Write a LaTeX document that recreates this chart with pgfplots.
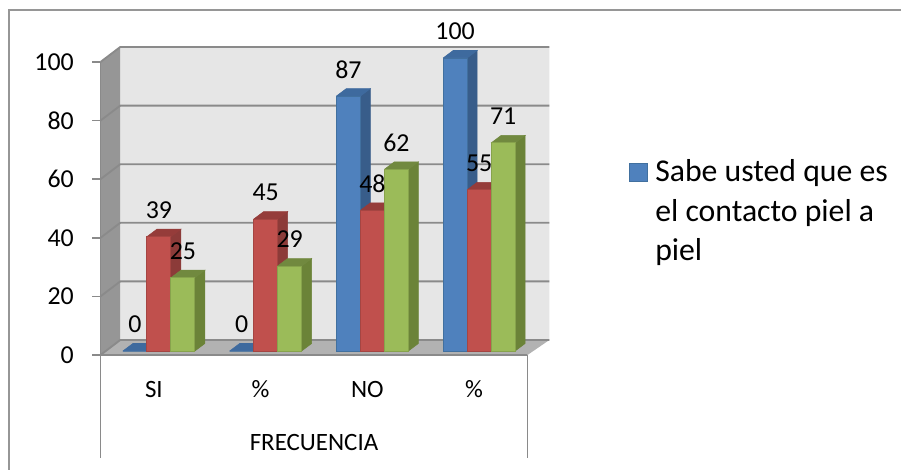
\documentclass[border=0pt]{standalone}
\usepackage{fontspec}
\setmainfont{Carlito}
\usepackage{pgfplots}
\usepackage{pgfplotstable}
\pgfplotsset{compat=1.18}
\pgfplotsset{/pgf/number format/assume math mode=true}

\definecolor{blueF}{HTML}{4F81BD}\definecolor{blueS}{HTML}{385D8A}\definecolor{blueT}{HTML}{3E6A9E}\definecolor{blueE}{HTML}{41709F}
\definecolor{redF}{HTML}{C0504D}\definecolor{redS}{HTML}{8C3B39}\definecolor{redT}{HTML}{953C3A}\definecolor{redE}{HTML}{A54542}
\definecolor{greenF}{HTML}{9BBB59}\definecolor{greenS}{HTML}{6B8338}\definecolor{greenT}{HTML}{71893F}\definecolor{greenE}{HTML}{87A34C}
\definecolor{wallback}{HTML}{E6E6E6}\definecolor{wallside}{HTML}{969696}\definecolor{floorc}{HTML}{B2B2B2}\definecolor{axisc}{HTML}{8A8A8A}

\pgfplotstableread{
x  blue red green
0  0    39  25
1  0    45  29
2  87   48  62
3  100  55  71
}\freq

% depth of one bar, in axis units
\def\dx{0.0937}\def\dy{2.56}
\def\hw{0.1124}

% side and top faces of a bar: #1 centre, #2 height, #3 side colour, #4 top colour
\newcommand{\barfaces}[4]{%
  \pgfmathsetmacro\xa{#1-\hw}\pgfmathsetmacro\xb{#1+\hw}%
  \pgfmathsetmacro\xc{\xb+\dx}\pgfmathsetmacro\xd{\xa+\dx}\pgfmathsetmacro\yt{#2+\dy}%
  \addplot[fill=#3,draw=#3,line width=0.4pt,forget plot] coordinates {(\xb,0) (\xc,\dy) (\xc,\yt) (\xb,#2) (\xb,0)};
  \addplot[fill=#4,draw=#4,line width=0.4pt,forget plot] coordinates {(\xa,#2) (\xb,#2) (\xc,\yt) (\xd,\yt) (\xa,#2)};
}
% faces of a whole series: #1 column, #2 offset of the bar from the category, #3 side, #4 top
\newcommand{\seriesfaces}[4]{%
  \foreach \r in {0,1,2,3}{%
    \pgfplotstablegetelem{\r}{#1}\of\freq
    \let\val\pgfplotsretval
    \pgfmathsetmacro\cx{\r+#2}%
    \edef\tmp{\noexpand\barfaces{\cx}{\val}{#3}{#4}}\tmp
  }%
}

\begin{document}
\begin{tikzpicture}[x=1pt,y=1pt]
\useasboundingbox (-75.375pt,-86.25pt) rectangle (600.375pt,266.25pt);
% outer chart frame
\draw[color=axisc!90!white,line width=1.5pt] (-68.25pt,-86.25pt) -- (-68.25pt,258.4pt) -- (600.375pt,258.4pt);

% walls, floor, value axis and category axis
\begin{axis}[
  scale only axis, width=320.25pt, height=219.75pt,
  xmin=-0.5, xmax=3.5, ymin=0, ymax=100,
  clip=false, axis on top,
  axis lines*=left,
  axis line style={color=axisc,line width=1.4pt},
  tick align=outside,
  major tick length=6pt,
  ytick={0,20,40,60,80,100},
  y tick style={color=axisc,line width=1.3pt},
  xtick={0,1,2,3},
  xticklabels={SI,\%,NO,\%},
  x tick style={draw=none},
  minor xtick={-0.5,0.5,1.5,2.5,3.5},
  minor tick length=38.25pt,
  minor x tick style={color=axisc,line width=1.3pt},
  xticklabel style={font=\fontsize{18.7}{22}\selectfont,text=black,anchor=base,yshift=-26pt},
  yticklabel style={font=\fontsize{19.4}{22}\selectfont,text=black,anchor=east,xshift=-10.5pt},
]
  \addplot[fill=wallback,draw=none] coordinates {(-0.315,5.12) (3.705,5.12) (3.705,104.95) (-0.315,104.95) (-0.315,5.12)};
  \addplot[fill=wallside,draw=none] coordinates {(-0.5,0) (-0.315,5.12) (-0.315,104.95) (-0.5,100) (-0.5,0)};
  \addplot[fill=floorc,draw=none] coordinates {(-0.5,0) (3.5,0) (3.705,5.12) (-0.315,5.12) (-0.5,0)};
  \pgfplotsinvokeforeach{0,20,40,60,80,100}{
    \pgfmathsetmacro\yb{#1+5.12}
    \addplot[color=axisc,line width=1.4pt] coordinates {(-0.5,#1) (-0.315,\yb) (3.705,\yb)};
  }
  \draw[color=axisc,line width=1.3pt] (axis cs:-0.5,0) -- (axis cs:-0.5,-35.2);
  \draw[color=axisc,line width=1.3pt] (axis cs:3.5,0) -- (axis cs:3.5,-35.2);
  \node[font=\fontsize{18.7}{22}\selectfont,anchor=center] at (axis cs:1.5,-30) {FRECUENCIA};
\end{axis}

% bars and their values
\begin{axis}[
  at={(3.75pt,3pt)},
  scale only axis, width=320.25pt, height=219.75pt,
  xmin=-0.5, xmax=3.5, ymin=0, ymax=100,
  clip=false, hide axis,
  legend style={draw=none,fill=none,at={(1.2249,0.68)},anchor=north west,
    inner sep=0pt,outer sep=0pt,font=\fontsize{23.8}{29.4}\selectfont},
  legend cell align=left,
  legend image code/.code={\draw[fill=blueF,draw=blueE,line width=0.8pt] (0pt,-9pt) rectangle (13.5pt,4.5pt);},
]
  \seriesfaces{blue}{-0.2248}{blueS}{blueT}
  \addplot[ybar,bar width=0.2248,bar shift=0pt,fill=blueF,draw=blueE,line width=0.7pt]
    table[x expr=\thisrow{x}-0.2248,y=blue] {\freq};
  \addlegendentry{\begin{tabular}[t]{@{\hspace{3.75pt}}l@{}}Sabe usted que es\\el contacto piel a\\piel\end{tabular}}
  \seriesfaces{red}{0}{redS}{redT}
  \addplot[ybar,bar width=0.2248,bar shift=0pt,fill=redF,draw=redE,line width=0.7pt,forget plot]
    table[x=x,y=red] {\freq};
  \seriesfaces{green}{0.2248}{greenS}{greenT}
  \addplot[ybar,bar width=0.2248,bar shift=0pt,fill=greenF,draw=greenE,line width=0.7pt,forget plot]
    table[x expr=\thisrow{x}+0.2248,y=green] {\freq};
  % value labels go last so that they stay above every bar
  \pgfplotsset{every node near coord/.style={anchor=center,yshift=20pt,
    font=\fontsize{19.4}{22}\selectfont,text=black}}
  \addplot[draw=none,mark=none,nodes near coords,forget plot] table[x expr=\thisrow{x}-0.2248,y=blue] {\freq};
  \addplot[draw=none,mark=none,nodes near coords,forget plot] table[x=x,y=red] {\freq};
  \addplot[draw=none,mark=none,nodes near coords,forget plot] table[x expr=\thisrow{x}+0.2248,y=green] {\freq};
\end{axis}
\end{tikzpicture}
\end{document}
